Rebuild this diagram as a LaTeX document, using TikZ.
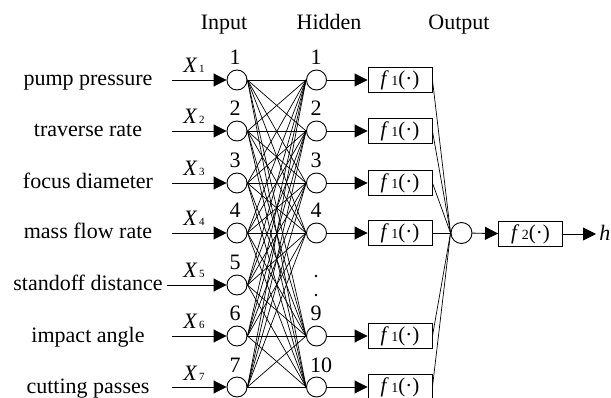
\documentclass[tikz,border=0pt]{standalone}
\usepackage{fontspec}
\setmainfont{Liberation Serif}
\usetikzlibrary{arrows.meta}
\newcommand\fsubx[1]{\textit{f}\hspace{2.5pt}{\fontsize{14}{14}\selectfont #1}(·)}
\begin{document}
\begin{tikzpicture}[x=1pt,y=-1pt, line width=0.9pt,
  neuron/.style={circle,draw,minimum size=20pt,inner sep=0pt},
  fbox/.style={draw,minimum width=64pt,minimum height=25pt,inner sep=0pt,font=\fontsize{21}{24}\selectfont},
  lab/.style={font=\fontsize{22}{26}\selectfont, inner sep=0pt},
  arr/.style={-{Triangle[length=13pt,width=13pt]}},
  conn/.style={line width=0.7pt}
]
\useasboundingbox (0,0) rectangle (611,398);
% titles
\node[lab,anchor=base] (tin) at (224,30) {Input};
\node[lab,anchor=base] (thid) at (329,30) {Hidden};
\node[lab,anchor=base] (tout) at (459,30) {Output};
% inputs
\foreach \i/\y/\t/\sx in {1/80/pump pressure/172, 2/131/traverse rate/172, 3/183/focus diameter/172, 4/233/mass flow rate/172, 5/285/standoff distance/167, 6/336/impact angle/172, 7/387/cutting passes/172}{
  \node[lab,anchor=base] (lab\i) at (88,\y+6) {\t};
  \node[neuron] (in\i) at (237,\y) {};
  \coordinate (s\i) at (\sx,\y);
  \draw[arr] (s\i) -- (in\i.west);
  \node[lab,anchor=base] (x\i) at (194,\y-7) {\textit{X}\hspace{1.5pt}{\fontsize{11}{11}\selectfont\i}};
  \node[lab,anchor=base] (n\i) at (235,\y-15) {\i};
}
% hidden
\foreach \j/\y/\nx in {1/80/316, 2/131/316, 3/183/316, 4/233/316, 9/336/316, 10/387/321}{
  \node[neuron] (hid\j) at (316.5,\y) {};
  \node[lab,anchor=base] (hn\j) at (\nx,\y-15) {\j};
  \node[fbox] (fb\j) at (400,\y) {\fsubx{1}};
}
\fill (316,276) circle (1.4pt);
\fill (316,295) circle (1.4pt);
% full connections
\foreach \i in {1,...,7}{
  \foreach \j in {1,2,3,4,9,10}{
    \draw[conn] (in\i.east) -- (hid\j.west);
  }
}
% output
\node[neuron,minimum size=21pt] (out) at (461.5,233) {};
\node[fbox] (fout) at (530.5,234) {\fsubx{2}};
\coordinate (hend) at (596,234);
\node[lab,anchor=west] (hlab) at (599,233) {\textit{h}};
\foreach \j in {1,2,3,4,9,10}{
  \draw[arr] (hid\j) -- (fb\j);
  \draw[conn] (fb\j.east) -- (out.west);
}
\draw[arr] (out) -- (fout);
\draw[arr] (fout) -- (hend);
\end{tikzpicture}
\end{document}
